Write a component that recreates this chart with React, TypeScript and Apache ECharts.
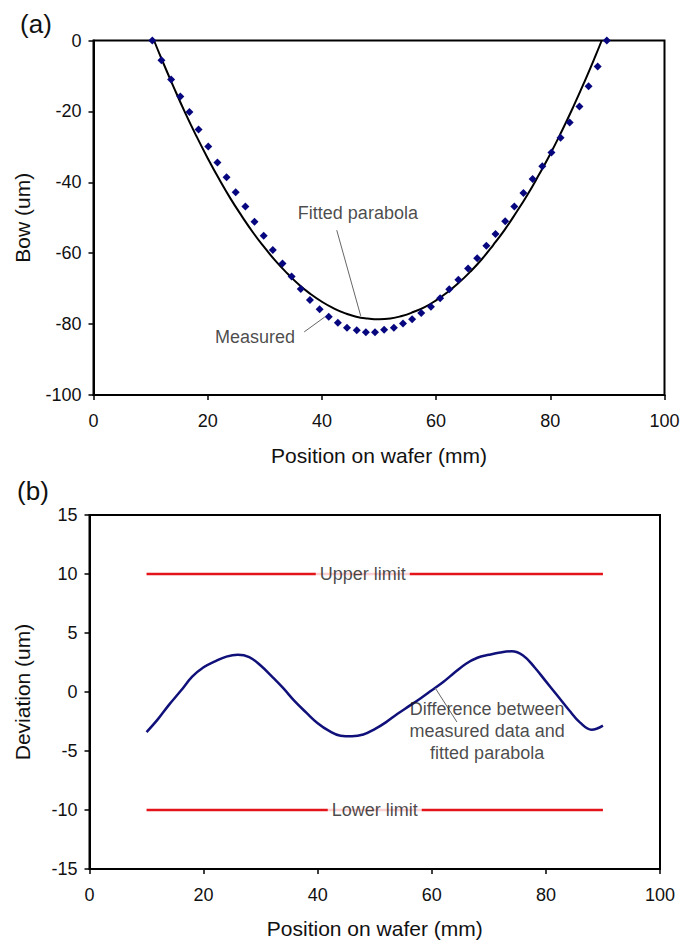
import React, { useEffect, useRef } from "react";
import * as echarts from "echarts";

// ---------- Data: panel (a) ----------
const measuredX = [10.3, 11.9, 13.6, 15.2, 16.8, 18.4, 20.1, 21.7, 23.3, 24.9, 26.6, 28.2, 29.8, 31.4, 33.1, 34.7, 36.3, 37.9, 39.6, 41.2, 42.8, 44.4, 46.1, 47.7, 49.3, 50.9, 52.6, 54.2, 55.8, 57.4, 59.1, 60.7, 62.3, 63.9, 65.6, 67.2, 68.8, 70.4, 72.1, 73.7, 75.3, 76.9, 78.6, 80.2, 81.8, 83.4, 85.1, 86.7, 88.3, 89.9];
const measuredBow = [0, -5.6, -11.0, -15.8, -20.2, -25.1, -29.9, -34.4, -38.6, -42.8, -46.8, -51.1, -55.1, -59.1, -62.9, -66.6, -70.1, -73.2, -75.8, -77.9, -79.6, -81.0, -81.7, -82.3, -82.3, -81.6, -81.0, -79.8, -78.6, -76.9, -75.1, -72.7, -70.2, -67.5, -64.3, -61.4, -57.9, -54.6, -51.0, -46.8, -43.0, -39.1, -35.5, -31.6, -27.4, -23.1, -18.6, -12.9, -7.3, 0];

const fittedX = [10.6, 12, 14, 16, 18, 20, 22, 24, 26, 28, 30, 32, 34, 36, 38, 40, 42, 44, 46, 48, 50, 52, 54, 56, 58, 60, 62, 64, 66, 68, 70, 72, 74, 76, 78, 80, 82, 84, 86, 88, 89.0];
const fittedBow = [0, -5.5, -13.0, -20.2, -26.9, -33.2, -39.1, -44.6, -49.6, -54.3, -58.5, -62.4, -65.8, -68.9, -71.5, -73.7, -75.5, -76.9, -77.9, -78.4, -78.6, -78.4, -77.7, -76.6, -75.2, -73.3, -71.0, -68.3, -65.2, -61.7, -57.7, -53.4, -48.6, -43.5, -37.9, -32.0, -25.6, -18.8, -11.6, -4.0, 0];

const bowTicks = [0, -20, -40, -60, -80, -100];

// ---------- Data: panel (b) ----------
const devX = [10, 12, 14, 16, 18, 20, 22, 24, 26, 28, 30, 32, 34, 36, 38, 40, 42, 44, 46, 48, 50, 52, 54, 56, 58, 60, 62, 64, 66, 68, 70, 72, 74, 76, 78, 80, 82, 84, 86, 88, 90];
const deviation = [-3.4, -2.3, -1.05, 0.1, 1.3, 2.1, 2.6, 3.0, 3.15, 2.95, 2.25, 1.3, 0.3, -0.8, -1.75, -2.65, -3.3, -3.7, -3.75, -3.6, -3.15, -2.55, -1.85, -1.2, -0.55, 0.15, 0.85, 1.65, 2.4, 2.9, 3.15, 3.35, 3.45, 3.1, 2.1, 0.9, -0.3, -1.5, -2.6, -3.2, -2.85];
const limitX = [10, 90];
const upperLimit = [10, 10];
const lowerLimit = [-10, -10];
const deviationTicks = [15, 10, 5, 0, -5, -10, -15];

// annotation anchors (data coordinates)
const fittedLeader = [[42.6, -53.5], [46.8, -77.7]];
const measuredLeader = [[36.9, -82.2], [40.5, -78.0]];
const diffLeader = [[60.6, 0.34], [64.4, -2.54]];

const FONT = "Liberation Sans, Arial, Helvetica, sans-serif";

function zip(xs: number[], ys: number[]) {
  return xs.map((x, i) => [x, ys[i]]);
}

function labelPoint(xi: number, yi: number, x: number, y: number, text: string, bg: boolean, extra: any = {}) {
  return {
    type: "scatter",
    xAxisIndex: xi,
    yAxisIndex: yi,
    symbolSize: 0,
    silent: true,
    data: [[x, y]],
    label: {
      show: true,
      position: "inside",
      formatter: text,
      color: "#1a1a1a",
      fontSize: 18,
      fontFamily: FONT,
      backgroundColor: bg ? "#fff" : "transparent",
      padding: bg ? [2, 4] : 0,
      ...extra,
    },
    z: 10,
  };
}

export default function App() {
  const ref = useRef<HTMLDivElement>(null);
  useEffect(() => {
    document.body.style.margin = "0";
    const chart = echarts.init(ref.current!, null, { renderer: "svg" });
    const axisLine = { show: true, onZero: false, lineStyle: { color: "#000", width: 2 } };
    const axisTick = { show: true, inside: false, length: 5, lineStyle: { color: "#000", width: 1.5 } };
    const axisLabelX = { color: "#111", fontSize: 18, fontFamily: FONT, margin: 17 };
    const axisLabelY = { color: "#111", fontSize: 18, fontFamily: FONT, margin: 12 };
    const nameStyle = { color: "#111", fontSize: 21, fontFamily: FONT };
    const option: any = {
      animation: false,
      backgroundColor: "#fff",
      grid: [
        { left: 93.5, top: 40.5, width: 571, height: 354.5, show: true, borderColor: "#000", borderWidth: 2, backgroundColor: "transparent" },
        { left: 89.5, top: 515, width: 570.5, height: 354, show: true, borderColor: "#000", borderWidth: 2, backgroundColor: "transparent" },
      ],
      xAxis: [
        {
          type: "value", gridIndex: 0, min: 0, max: 100, interval: 20,
          axisLine, axisTick, axisLabel: axisLabelX, splitLine: { show: false },
          name: "Position on wafer (mm)", nameLocation: "middle", nameGap: 50, nameTextStyle: nameStyle,
        },
        {
          type: "value", gridIndex: 1, min: 0, max: 100, interval: 20,
          axisLine, axisTick, axisLabel: axisLabelX, splitLine: { show: false },
          name: "Position on wafer (mm)", nameLocation: "middle", nameGap: 49, nameTextStyle: nameStyle,
        },
      ],
      yAxis: [
        {
          type: "value", gridIndex: 0, min: bowTicks[bowTicks.length - 1], max: bowTicks[0], interval: 20,
          axisLine, axisTick, axisLabel: axisLabelY, splitLine: { show: false },
          name: "Bow (um)", nameLocation: "middle", nameGap: 61, nameRotate: 90, nameTextStyle: nameStyle,
        },
        {
          type: "value", gridIndex: 1, min: deviationTicks[deviationTicks.length - 1], max: deviationTicks[0], interval: 5,
          axisLine, axisTick, axisLabel: axisLabelY, splitLine: { show: false },
          name: "Deviation (um)", nameLocation: "middle", nameGap: 57, nameRotate: 90, nameTextStyle: nameStyle,
        },
      ],
      graphic: [
        { type: "text", x: 36, y: 24, style: { text: "(a)", font: "26px " + FONT, fill: "#111", align: "center", verticalAlign: "middle" } },
        { type: "text", x: 33, y: 491, style: { text: "(b)", font: "26px " + FONT, fill: "#111", align: "center", verticalAlign: "middle" } },
      ],
      series: [
        {
          type: "line", name: "Fitted parabola", xAxisIndex: 0, yAxisIndex: 0,
          data: zip(fittedX, fittedBow), smooth: true, showSymbol: false, silent: true,
          lineStyle: { color: "#000", width: 2 }, z: 3,
        },
        {
          type: "scatter", name: "Measured", xAxisIndex: 0, yAxisIndex: 0,
          data: zip(measuredX, measuredBow), symbol: "diamond", symbolSize: [8, 8], silent: true,
          itemStyle: { color: "#06067e", opacity: 1 }, z: 4,
        },
        {
          type: "line", xAxisIndex: 0, yAxisIndex: 0, data: fittedLeader, showSymbol: false, silent: true,
          lineStyle: { color: "#666", width: 1 },
        },
        {
          type: "line", xAxisIndex: 0, yAxisIndex: 0, data: measuredLeader, showSymbol: false, silent: true,
          lineStyle: { color: "#666", width: 1 },
        },
        labelPoint(0, 0, 46.3, -48.7, "Fitted parabola", false),
        labelPoint(0, 0, 28.3, -83.6, "Measured", false),
        {
          type: "line", name: "Upper limit", xAxisIndex: 1, yAxisIndex: 1,
          data: zip(limitX, upperLimit), showSymbol: false, silent: true,
          lineStyle: { color: "#e3151a", width: 2.5 },
        },
        {
          type: "line", name: "Lower limit", xAxisIndex: 1, yAxisIndex: 1,
          data: zip(limitX, lowerLimit), showSymbol: false, silent: true,
          lineStyle: { color: "#e3151a", width: 2.5 },
        },
        {
          type: "line", name: "Deviation", xAxisIndex: 1, yAxisIndex: 1,
          data: zip(devX, deviation), smooth: 0.4, showSymbol: false, silent: true,
          lineStyle: { color: "#10107a", width: 2.5 },
        },
        {
          type: "line", xAxisIndex: 1, yAxisIndex: 1, data: diffLeader, showSymbol: false, silent: true,
          lineStyle: { color: "#666", width: 1 },
        },
        labelPoint(1, 1, 47.9, 10, "Upper limit", true),
        labelPoint(1, 1, 50.0, -10, "Lower limit", true),
        labelPoint(1, 1, 69.7, -3.3, "Difference between\nmeasured data and\nfitted parabola", false, { lineHeight: 22, align: "center" }),
      ],
    };
    chart.setOption(option);
    return () => chart.dispose();
  }, []);
  return <div ref={ref} style={{ width: 692, height: 943 }} />;
}
